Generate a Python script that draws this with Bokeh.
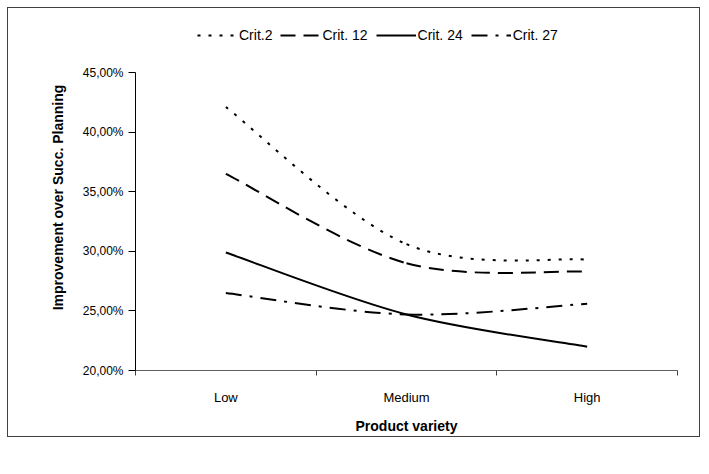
from bokeh.plotting import figure
from bokeh.models import (Range1d, FixedTicker, Legend, LegendItem, ColumnDataSource)
from bokeh.embed import file_html
from bokeh.resources import INLINE

# ---- data ----
categories = ["Low", "Medium", "High"]
crit2 = [42.1, 30.6, 29.3]
crit12 = [36.5, 29.0, 28.3]
crit24 = [29.9, 24.7, 22.0]
crit27 = [26.5, 24.7, 25.6]
series_names = ["Crit.2", "Crit. 12", "Crit. 24", "Crit. 27"]
y_ticks = [20, 25, 30, 35, 40, 45]
y_tick_labels = ["20,00%", "25,00%", "30,00%", "35,00%", "40,00%", "45,00%"]

FONT = "Liberation Sans"

# layout (pixels)
W, H = 693, 430
B_LEFT, B_RIGHT, B_TOP, B_BOTTOM = 127, 24, 16, 68
AXIS_PX = 298          # pixel height of the 20%..45% span
FRAME_PX = H - B_TOP - B_BOTTOM
y_lo, y_hi = y_ticks[0], y_ticks[-1]
y_top = y_lo + (y_hi - y_lo) * FRAME_PX / AXIS_PX   # extra room above for legend

p = figure(width=W, height=H, output_backend="svg", toolbar_location=None,
           x_range=Range1d(0, len(categories)), y_range=Range1d(y_lo, y_top),
           min_border_left=B_LEFT, min_border_right=B_RIGHT,
           min_border_top=B_TOP, min_border_bottom=B_BOTTOM,
           styles={"border": "1px solid #404040", "margin": "7px 0 0 7px"})
p.outline_line_color = None
p.grid.visible = False

xs = [i + 0.5 for i in range(len(categories))]


def bezier_source(ys):
    n = len(ys)
    pts = list(zip(xs, ys))
    ext = [pts[0]] + pts + [pts[-1]]
    d = dict(x0=[], y0=[], x1=[], y1=[], cx0=[], cy0=[], cx1=[], cy1=[])
    for i in range(n - 1):
        pm, p0, p1, p2 = ext[i], ext[i + 1], ext[i + 2], ext[i + 3]
        d["x0"].append(p0[0]); d["y0"].append(p0[1])
        d["x1"].append(p1[0]); d["y1"].append(p1[1])
        d["cx0"].append(p0[0] + (p1[0] - pm[0]) / 6); d["cy0"].append(p0[1] + (p1[1] - pm[1]) / 6)
        d["cx1"].append(p1[0] - (p2[0] - p0[0]) / 6); d["cy1"].append(p1[1] - (p2[1] - p0[1]) / 6)
    return ColumnDataSource(d)


dashes = ["3 8", "15 8", "solid", "16 8 3 8"]
items = []
for name, ys, dash in zip(series_names, [crit2, crit12, crit24, crit27], dashes):
    r = p.bezier(x0="x0", y0="y0", x1="x1", y1="y1", cx0="cx0", cy0="cy0", cx1="cx1", cy1="cy1",
                 source=bezier_source(ys), line_color="black", line_dash=dash, line_width=2)
    items.append(LegendItem(label=name, renderers=[r]))

xaxis = p.xaxis[0]
xaxis.ticker = FixedTicker(ticks=xs, minor_ticks=list(range(len(categories) + 1)))
xaxis.major_label_overrides = {x: c for x, c in zip(xs, categories)}
xaxis.major_tick_out = 0
xaxis.major_tick_in = 0
xaxis.minor_tick_out = 5
xaxis.minor_tick_in = 0
xaxis.minor_tick_line_color = "#404040"
xaxis.axis_line_color = "#606060"
xaxis.major_label_standoff = 14
xaxis.major_label_text_font = FONT
xaxis.major_label_text_font_size = "13px"
xaxis.major_label_text_color = "black"
xaxis.axis_label = "Product variety"
xaxis.axis_label_text_font = FONT
xaxis.axis_label_text_font_style = "bold"
xaxis.axis_label_text_font_size = "14px"
xaxis.axis_label_text_color = "black"
xaxis.axis_label_standoff = 10

yaxis = p.yaxis[0]
yaxis.ticker = FixedTicker(ticks=y_ticks, minor_ticks=[])
yaxis.bounds = (y_lo, y_hi)
yaxis.major_label_overrides = {t: l for t, l in zip(y_ticks, y_tick_labels)}
yaxis.major_tick_out = 7
yaxis.major_tick_in = 0
yaxis.major_tick_line_color = "black"
yaxis.axis_line_color = "black"
yaxis.major_label_standoff = 5
yaxis.major_label_text_font = FONT
yaxis.major_label_text_font_size = "12px"
yaxis.major_label_text_color = "black"
yaxis.axis_label = "Improvement over Succ. Planning"
yaxis.axis_label_text_font = FONT
yaxis.axis_label_text_font_style = "bold"
yaxis.axis_label_text_font_size = "14px"
yaxis.axis_label_text_color = "black"
yaxis.axis_label_standoff = 14

legend = Legend(items=items, orientation="horizontal", location=(62, 327),
                glyph_width=40, glyph_height=14, label_standoff=2, spacing=8,
                padding=0, margin=0, border_line_color=None, background_fill_alpha=0,
                label_text_font=FONT, label_text_font_size="14px", label_text_color="black")
p.add_layout(legend, "center")

open("out.html", "w").write(file_html(p, INLINE))
